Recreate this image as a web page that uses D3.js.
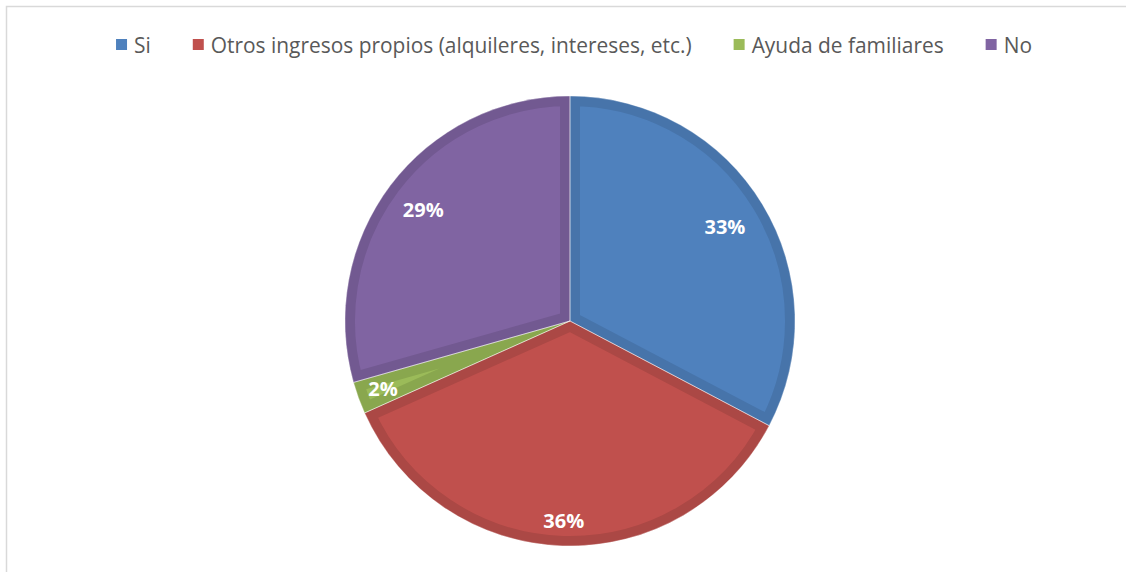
<!DOCTYPE html>
<html>
<head>
<meta charset="utf-8">
<script src="https://cdn.jsdelivr.net/npm/d3@7"></script>
<style>
  body { margin: 0; background: #fff; }
  svg { display: block; }
</style>
</head>
<body>
<script>
// values (slice angles), labels as printed
var categories = ['Si', 'Otros ingresos propios (alquileres, intereses, etc.)', 'Ayuda de familiares', 'No'];
var percents = [32.7, 35.6, 2.3, 29.4];
var labelText = ['33%', '36%', '2%', '29%'];

var fills = ['#4f81bd', '#c0504d', '#9bbb59', '#8064a2'];
var edges = ['#4774aa', '#ab4845', '#89a74e', '#725991'];
var labelRadius = [181, 200, 199, 184];

var width = 1126, height = 572;
var cx = 570, cy = 321, radius = 225;

var svg = d3.select('body').append('svg')
  .attr('width', width)
  .attr('height', height);

// chart frame (only the top/left edges show in the picture)
svg.append('rect')
  .attr('x', 6.5).attr('y', 6.5)
  .attr('width', width + 20).attr('height', height + 20)
  .attr('fill', 'none')
  .attr('stroke', '#d9d9d9')
  .attr('stroke-width', 1.5);

var pie = d3.pie().sort(null).value(function(d) { return d; });
var arcs = pie(percents);
var arc = d3.arc().innerRadius(0).outerRadius(radius);

var g = svg.append('g').attr('transform', 'translate(' + cx + ',' + cy + ')');
var defs = svg.append('defs');

arcs.forEach(function(a, i) {
  defs.append('clipPath').attr('id', 'clip' + i)
    .append('path').attr('d', arc(a));

  g.append('path')
    .attr('d', arc(a))
    .attr('fill', fills[i])
    .attr('stroke', edges[i])
    .attr('stroke-width', 20)
    .attr('stroke-linejoin', 'round')
    .attr('clip-path', 'url(#clip' + i + ')');
});

// thin light seams between slices
g.selectAll('path.seam')
  .data(arcs)
  .enter().append('path')
  .attr('class', 'seam')
  .attr('d', arc)
  .attr('fill', 'none')
  .attr('stroke', '#ffffff')
  .attr('stroke-opacity', 0.5)
  .attr('stroke-width', 0.8);

g.selectAll('text.pct')
  .data(arcs)
  .enter().append('text')
  .attr('class', 'pct')
  .attr('x', function(d, i) { var m = (d.startAngle + d.endAngle) / 2; return Math.sin(m) * labelRadius[i]; })
  .attr('y', function(d, i) { var m = (d.startAngle + d.endAngle) / 2; return -Math.cos(m) * labelRadius[i]; })
  .attr('dy', '0.35em')
  .attr('text-anchor', 'middle')
  .attr('font-family', 'Open Sans, sans-serif')
  .attr('font-weight', 'bold')
  .attr('font-size', 20)
  .attr('fill', '#ffffff')
  .text(function(d, i) { return labelText[i]; });

// legend
var legend = svg.append('g');
var fontSize = 20;
var probe = legend.append('text')
  .attr('font-family', 'Open Sans, sans-serif')
  .attr('font-size', fontSize)
  .text(categories[1]);
fontSize = fontSize * 481 / probe.node().getComputedTextLength();
probe.remove();

var x = 0;
categories.forEach(function(c, i) {
  var item = legend.append('g');
  item.append('rect')
    .attr('x', 0).attr('y', -6)
    .attr('width', 11).attr('height', 11)
    .attr('fill', fills[i]);
  var t = item.append('text')
    .attr('x', 18).attr('y', 0)
    .attr('dy', '0.38em')
    .attr('font-family', 'Open Sans, sans-serif')
    .attr('font-size', fontSize)
    .attr('fill', '#595959')
    .text(c);
  item.attr('transform', 'translate(' + x + ',0)');
  x += 18 + t.node().getComputedTextLength() + 42;
});
var total = x - 42;
legend.attr('transform', 'translate(' + (574 - total / 2) + ',45)');
</script>
</body>
</html>
